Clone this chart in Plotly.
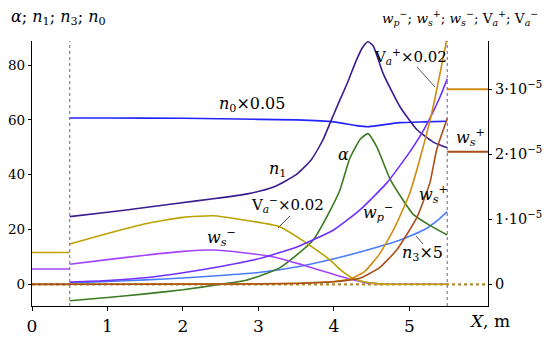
import plotly.graph_objects as go

# ---------------- data (left axis) ----------------
x_n0 = [0.5, 1.0, 2.0, 3.0, 3.5, 4.0, 4.3, 4.45, 4.6, 4.87, 5.2, 5.5]
n0_x005 = [60.7, 60.7, 60.6, 60.2, 60.0, 59.3, 57.9, 57.5, 58.0, 59.0, 59.3, 59.5]

x_n1 = [0.5, 1.0, 1.5, 1.96, 2.4, 2.85, 3.2, 3.5, 3.7, 3.85, 3.95, 4.05, 4.17, 4.3, 4.38, 4.45, 4.52, 4.65, 4.87, 5.1, 5.31, 5.5]
n1 = [24.7, 26.3, 28.0, 29.7, 31.2, 33.0, 35.5, 40.0, 45.5, 52.5, 59.0, 65.5, 73.0, 82.0, 86.5, 88.5, 87.0, 77.0, 65.0, 56.4, 52.0, 49.8]

x_n3 = [0.5, 1.0, 1.5, 2.0, 2.5, 3.0, 3.5, 4.0, 4.5, 4.87, 5.2, 5.4, 5.5]
n3_x5 = [0.5, 1.0, 1.6, 2.3, 3.2, 4.3, 6.3, 9.3, 13.0, 16.1, 20.0, 24.0, 26.5]

x_alpha = [0.5, 1.0, 1.5, 2.0, 2.5, 2.84, 3.28, 3.72, 3.95, 4.08, 4.21, 4.35, 4.45, 4.57, 4.75, 5.05, 5.27, 5.5]
alpha = [-6.0, -4.8, -3.5, -2.0, 0.0, 1.5, 6.0, 16.0, 27.0, 34.5, 46.0, 53.0, 55.0, 50.0, 38.0, 25.5, 21.5, 18.0]

# ---------------- data (right axis, units of 1e-5) ----------------
x_wp = [0.5, 1.0, 1.5, 2.0, 2.5, 3.0, 3.5, 4.0, 4.34, 4.7, 5.0, 5.2, 5.4, 5.5]
wp_minus = [0.034, 0.059, 0.10, 0.177, 0.274, 0.392, 0.57, 0.84, 1.14, 1.56, 2.03, 2.40, 2.87, 3.16]

x_wsm = [0.5, 1.0, 1.5, 2.0, 2.4, 2.8, 3.2, 3.55, 3.95, 4.2, 4.4, 4.6, 4.8, 5.5]
ws_minus = [0.308, 0.38, 0.447, 0.506, 0.527, 0.485, 0.42, 0.31, 0.17, 0.085, 0.03, 0.008, 0.0, 0.0]

x_vam = [0.5, 1.0, 1.5, 2.0, 2.4, 2.8, 3.28, 3.68, 3.95, 4.1, 4.25, 4.4, 4.6, 4.8, 5.5]
va_minus_x002 = [0.62, 0.78, 0.93, 1.03, 1.055, 0.99, 0.886, 0.60, 0.37, 0.21, 0.093, 0.038, 0.006, 0.0, 0.0]

x_vap = [0.5, 2.0, 3.0, 3.5, 3.8, 4.0, 4.2, 4.4, 4.6, 4.8, 5.0, 5.14, 5.3, 5.5]
va_plus_x002 = [0.0, 0.002, 0.008, 0.017, 0.03, 0.042, 0.076, 0.19, 0.46, 0.865, 1.39, 1.94, 2.66, 3.8]

x_wsp = [0.5, 3.0, 3.5, 4.0, 4.34, 4.6, 4.83, 5.1, 5.27, 5.36, 5.5]
ws_plus = [0.0, 0.004, 0.013, 0.038, 0.093, 0.253, 0.527, 1.034, 1.56, 2.07, 2.55]

# boundary (inlet / outlet) levels, units of 1e-5
x_inlet = [0.0, 0.5]
x_outlet = [5.5, 6.04]
va_minus_inlet = 0.49
ws_minus_inlet = 0.235
zero_inlet = 0.0
va_plus_outlet = 3.0
ws_plus_outlet = 2.04

x_ticks = [0, 1, 2, 3, 4, 5]
y_ticks = [0, 20, 40, 60, 80]
y2_ticks = [0, 1, 2, 3]
y2_ticktext = ["0", "1·10<sup>−5</sup>", "2·10<sup>−5</sup>", "3·10<sup>−5</sup>"]

# ---------------- styles ----------------
C_N0 = "#2323ff"
C_N1 = "#3a1c8e"
C_N3 = "#4a7cff"
C_AL = "#3c7a22"
C_WP = "#7030ff"
C_WSM = "#a444ff"
C_VAM = "#bca200"
C_VAP = "#d08c10"
C_WSP = "#a8501c"
FONT = "DejaVu Serif"
LW = 1.6

fig = go.Figure()

def add(x, y, color, axis="y", dash="solid", width=LW, smooth=0.5):
    fig.add_trace(go.Scatter(x=x, y=y, mode="lines", yaxis=axis,
                             line=dict(color=color, width=width, dash=dash, shape="spline", smoothing=smooth),
                             showlegend=False, hoverinfo="skip"))

# zero baseline (dotted)
add([0, 6.04], [0, 0], "#b08a30", "y2", dash="dot", width=2.2)
# inlet / outlet levels
add(x_inlet, [zero_inlet, zero_inlet], C_WSP, "y2", width=2)
add(x_inlet, [va_minus_inlet] * 2, C_VAM, "y2")
add(x_inlet, [ws_minus_inlet] * 2, C_WSM, "y2")
add(x_outlet, [va_plus_outlet] * 2, C_VAP, "y2", width=2)
add(x_outlet, [ws_plus_outlet] * 2, C_WSP, "y2", width=2)

# right-axis curves
add(x_wsm, ws_minus, C_WSM, "y2")
add(x_vam, va_minus_x002, C_VAM, "y2")
add(x_wp, wp_minus, C_WP, "y2")
add(x_vap, va_plus_x002, C_VAP, "y2")
add(x_wsp, ws_plus, C_WSP, "y2")

# left-axis curves
add(x_n0, n0_x005, C_N0)
add(x_n1, n1, C_N1)
add(x_n3, n3_x5, C_N3)
add(x_alpha, alpha, C_AL)

# ---------------- layout ----------------
W, H = 550, 338
OFF = 8                      # page body margin shifts the figure on screen
SL, SR, ST, SB = 32, 488, 41, 306   # desired on-screen plot box
L, T = SL - OFF, ST - OFF
R = W - (SR - OFF)
B = H - (SB - OFF)
XMAX = 6.04
YMIN, YMAX = -7.92, 88.8
Y2MIN, Y2MAX = -0.334, 3.743

def px2x(px):
    return (px - SL) / (SR - SL) * XMAX

def py2y(py):
    return YMIN + (SB - py) / (SB - ST) * (YMAX - YMIN)

def pxp(px):
    return (px - SL) / (SR - SL)

def pyp(py):
    return (SB - py) / (SB - ST)

fig.update_layout(
    width=W, height=H, margin=dict(l=L, r=R, t=T, b=B, autoexpand=False),
    paper_bgcolor="white", plot_bgcolor="white",
    font=dict(family=FONT, size=16, color="black"),
    xaxis=dict(range=[0, XMAX], tickvals=x_ticks, showgrid=False, zeroline=False, automargin=False,
               showline=True, linecolor="black", linewidth=1.2, ticks="outside", ticklen=4,
               tickcolor="black", tickfont=dict(family=FONT, size=17, color="black")),
    yaxis=dict(range=[YMIN, YMAX], tickvals=y_ticks, showgrid=False, zeroline=False, automargin=False,
               showline=True, linecolor="black", linewidth=1.2, ticks="outside", ticklen=3,
               tickcolor="black", tickfont=dict(family=FONT, size=13.5, color="black")),
    yaxis2=dict(range=[Y2MIN, Y2MAX], tickvals=y2_ticks, ticktext=y2_ticktext, overlaying="y",
                side="right", showgrid=False, zeroline=False, showline=True, linecolor="black",
                automargin=False, linewidth=1.2, ticks="outside", ticklen=3, tickcolor="black",
                tickfont=dict(family=FONT, size=14.5, color="black")),
)

# vertical dotted boundary lines
for xv in (0.5, 5.5):
    fig.add_shape(type="line", xref="x", yref="paper", x0=xv, x1=xv, y0=0, y1=1,
                  line=dict(color="#7a5a8a", width=1, dash="dot"))

def label(text, px, py, size=16, anchor="center"):
    fig.add_annotation(x=px2x(px), y=py2y(py), xref="x", yref="y", text=text, showarrow=False,
                       xanchor=anchor, yanchor="middle", font=dict(family=FONT, size=size, color="black"))

# axis titles
fig.add_annotation(xref="paper", yref="paper", x=pxp(9), y=pyp(17),
                   xanchor="left", yanchor="middle", showarrow=False,
                   text="<i>α</i>; <i>n</i><sub>1</sub>; <i>n</i><sub>3</sub>; <i>n</i><sub>0</sub>",
                   font=dict(family=FONT, size=16, color="black"))
fig.add_annotation(xref="paper", yref="paper", x=pxp(540), y=pyp(18),
                   xanchor="right", yanchor="middle", showarrow=False,
                   text="<i>w</i><sub><i>p</i></sub><sup>−</sup>; <i>w</i><sub><i>s</i></sub><sup>+</sup>; "
                        "<i>w</i><sub><i>s</i></sub><sup>−</sup>; V<sub><i>a</i></sub><sup>+</sup>; "
                        "V<sub><i>a</i></sub><sup>−</sup>",
                   font=dict(family=FONT, size=13.5, color="black"))
fig.add_annotation(xref="paper", yref="paper", x=pxp(489), y=pyp(321),
                   xanchor="center", yanchor="middle", showarrow=False,
                   text="<i>X</i>, m", font=dict(family=FONT, size=17, color="black"))

# curve labels
label("<i>n</i><sub>0</sub>×0.05", 252, 104)
label("<i>n</i><sub>1</sub>", 277, 169)
label("<i>α</i>", 343, 154)
label("V<sub><i>a</i></sub><sup>−</sup>×0.02", 287, 204, size=15)
label("<i>w</i><sub><i>s</i></sub><sup>−</sup>", 221, 237)
label("<i>w</i><sub><i>p</i></sub><sup>−</sup>", 378, 212)
label("<i>w</i><sub><i>s</i></sub><sup>+</sup>", 433, 194)
label("<i>n</i><sub>3</sub>×5", 422, 253)
label("V<sub><i>a</i></sub><sup>+</sup>×0.02", 410, 56, size=15)
label("<i>w</i><sub><i>s</i></sub><sup>+</sup>", 470, 137)

# pointer lines
def pointer(p0, p1):
    fig.add_shape(type="line", xref="x", yref="y", x0=px2x(p0[0]), y0=py2y(p0[1]),
                  x1=px2x(p1[0]), y1=py2y(p1[1]), line=dict(color="#555555", width=1))

pointer((290, 216), (278, 228))
pointer((416, 236), (423, 244))
pointer((417, 67), (435, 87))

fig.write_html("out.html")
